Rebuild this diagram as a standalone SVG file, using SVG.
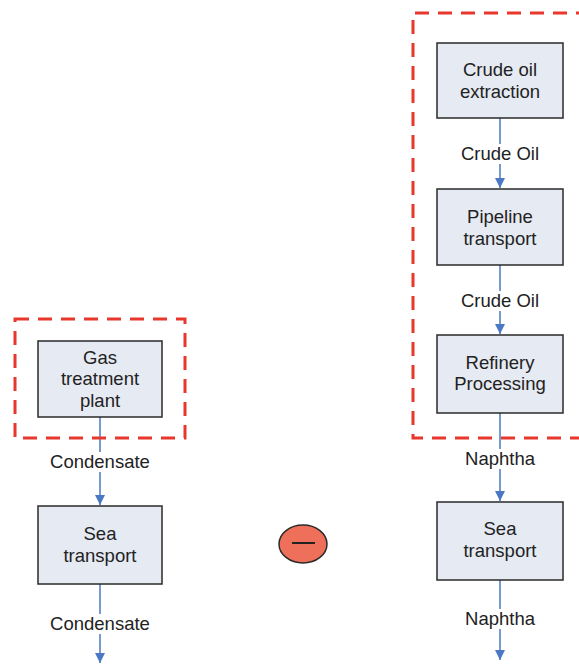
<svg xmlns="http://www.w3.org/2000/svg" width="579" height="664" viewBox="0 0 579 664">
<style>
.box{fill:#e6eaf3;stroke:#2a2a2a;stroke-width:1.5}
.t{font-family:"Liberation Sans",Arial,sans-serif;font-size:18.5px;fill:#222;text-anchor:middle}
.c{stroke:#4a78c4;stroke-width:1.5;fill:none}
.lbg{fill:#fff}
.dash{fill:none;stroke:#e8372c;stroke-width:3;stroke-dasharray:14 9}
</style>
<defs>
<marker id="ah" viewBox="0 0 10 10" refX="10" refY="5" markerWidth="10" markerHeight="10" markerUnits="userSpaceOnUse" orient="auto">
<path d="M0,0 L10,5 L0,10 z" fill="#4a78c4"/>
</marker>
</defs>
<rect width="579" height="664" fill="#fff"/>
<g id="connectors">
<line class="c" x1="100" y1="417" x2="100" y2="505" marker-end="url(#ah)"/>
<line class="c" x1="100" y1="584" x2="100" y2="663" marker-end="url(#ah)"/>
<line class="c" x1="500" y1="118" x2="500" y2="188" marker-end="url(#ah)"/>
<line class="c" x1="500" y1="265" x2="500" y2="334" marker-end="url(#ah)"/>
<line class="c" x1="500" y1="413" x2="500" y2="501" marker-end="url(#ah)"/>
<line class="c" x1="500" y1="580" x2="500" y2="660" marker-end="url(#ah)"/>
<rect class="lbg" x="46" y="452" width="108" height="20"/>
<text class="t" x="100" y="468">Condensate</text>
<rect class="lbg" x="46" y="614" width="108" height="20"/>
<text class="t" x="100" y="630">Condensate</text>
<rect class="lbg" x="456" y="144" width="88" height="20"/>
<text class="t" x="500" y="160">Crude Oil</text>
<rect class="lbg" x="456" y="291" width="88" height="20"/>
<text class="t" x="500" y="307">Crude Oil</text>
<rect class="lbg" x="460" y="449" width="80" height="20"/>
<text class="t" x="500" y="465">Naphtha</text>
<rect class="lbg" x="460" y="609" width="80" height="20"/>
<text class="t" x="500" y="625">Naphtha</text>
</g>
<g id="boundary-left">
<rect class="dash" x="15" y="319" width="170" height="119"/>
</g>
<g id="boundary-right">
<path class="dash" d="M 590 13 L 413 13 L 413 438 L 590 438"/>
</g>
<g id="gas-treatment-plant">
<rect class="box" x="38" y="341" width="124" height="76"/>
<text class="t" x="100" y="364">Gas</text>
<text class="t" x="100" y="385">treatment</text>
<text class="t" x="100" y="407">plant</text>
</g>
<g id="sea-transport-left">
<rect class="box" x="38" y="506" width="124" height="78"/>
<text class="t" x="100" y="540">Sea</text>
<text class="t" x="100" y="562">transport</text>
</g>
<g id="crude-oil-extraction">
<rect class="box" x="437" y="43" width="126" height="75"/>
<text class="t" x="500" y="76">Crude oil</text>
<text class="t" x="500" y="98">extraction</text>
</g>
<g id="pipeline-transport">
<rect class="box" x="437" y="189" width="126" height="76"/>
<text class="t" x="500" y="223">Pipeline</text>
<text class="t" x="500" y="245">transport</text>
</g>
<g id="refinery-processing">
<rect class="box" x="437" y="335" width="126" height="78"/>
<text class="t" x="500" y="369">Refinery</text>
<text class="t" x="500" y="390">Processing</text>
</g>
<g id="sea-transport-right">
<rect class="box" x="437" y="502" width="126" height="78"/>
<text class="t" x="500" y="535">Sea</text>
<text class="t" x="500" y="557">transport</text>
</g>
<g id="minus">
<ellipse cx="303" cy="544" rx="24" ry="19" fill="#ef705a" stroke="#2a2a2a" stroke-width="1.5"/>
<line x1="292" y1="543" x2="315" y2="543" stroke="#222" stroke-width="2"/>
</g>
</svg>
